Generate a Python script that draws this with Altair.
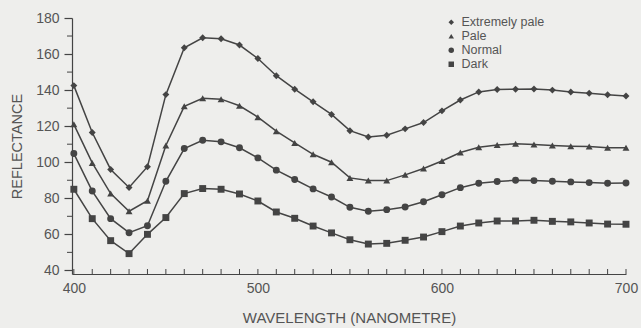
import altair as alt
import pandas as pd

wavelength = [400, 410, 420, 430, 440, 450, 460, 470, 480, 490, 500,
              510, 520, 530, 540, 550, 560, 570, 580, 590, 600,
              610, 620, 630, 640, 650, 660, 670, 680, 690, 700]

extremely_pale = [142.5, 116.5, 96, 86, 97.5, 137.5, 163.5, 169, 168.5, 165, 157.5,
                  148, 140.5, 133.5, 126.5, 117.5, 114, 115, 118.5, 122, 128.5,
                  134.5, 139, 140.3, 140.5, 140.6, 140, 139, 138.3, 137.4, 136.7]
pale = [121, 99.6, 82.6, 72.8, 78.7, 109.3, 131, 135.5, 135, 131.3, 125,
        117.2, 110.7, 104.4, 100, 91.3, 89.8, 89.8, 93, 96.5, 100.7,
        105.4, 108.3, 109.6, 110.2, 109.8, 109.3, 108.9, 108.7, 108, 108]
normal = [104.8, 84, 68.7, 60.9, 64.8, 89.4, 107.6, 112.2, 111.3, 108, 102.4,
          95.6, 90.4, 85.2, 80.7, 75, 72.8, 73.7, 75.2, 78.1, 82,
          85.9, 88.3, 89.3, 90, 89.8, 89.4, 89.1, 88.7, 88.3, 88.5]
dark = [85, 68.7, 56.5, 49.3, 60, 69.3, 82.6, 85.4, 85, 82.4, 78.5,
        72.4, 68.9, 64.6, 60.8, 57, 54.6, 55, 56.7, 58.5, 61.5,
        64.6, 66.3, 67.4, 67.4, 67.8, 67.2, 66.9, 66.3, 65.7, 65.6]

series_names = ["Extremely pale", "Pale", "Normal", "Dark"]
series_shapes = ["diamond", "triangle-up", "circle", "square"]

x_major = [400, 500, 600, 700]
y_major = [40, 60, 80, 100, 120, 140, 160, 180]
y_minor = [50, 70, 90, 110, 130, 150, 170]

rows = []
for name, vals in zip(series_names, [extremely_pale, pale, normal, dark]):
    for w, v in zip(wavelength, vals):
        rows.append({"wavelength": w, "reflectance": v, "series": name})
df = pd.DataFrame(rows)

FONT = "Liberation Sans"
INK = "#444444"
TXT = "#555555"
W, H = 554, 256

xscale = alt.Scale(domain=[399, 700], nice=False, zero=False)
yscale = alt.Scale(domain=[38, 180], nice=False, zero=False)

xaxis = alt.Axis(values=x_major, ticks=False, grid=False, labelPadding=7,
                 labelFontSize=14, labelColor=TXT, labelFont=FONT,
                 labelFlush=False, labelOverlap=False, labelBound=False,
                 domainColor=INK, domainWidth=1.2,
                 title="WAVELENGTH (NANOMETRE)", titleFont=FONT, titleFontSize=15,
                 titleFontWeight="normal", titleColor=TXT, titlePadding=15)
yaxis = alt.Axis(values=y_major, tickSize=8, tickColor=INK, tickWidth=1.2, grid=False,
                 labelPadding=5, labelFontSize=14, labelColor=TXT, labelFont=FONT,
                 labelFlush=False, labelOverlap=False, labelBound=False,
                 domainColor=INK, domainWidth=1.2,
                 title="REFLECTANCE", titleFont=FONT, titleFontSize=14.5,
                 titleFontWeight="normal", titleColor=TXT, titlePadding=11)

base = alt.Chart(df)

lines = base.mark_line(color=INK, strokeWidth=1.5).encode(
    x=alt.X("wavelength:Q", scale=xscale, axis=xaxis),
    y=alt.Y("reflectance:Q", scale=yscale, axis=yaxis),
    detail="series:N",
)

points = base.mark_point(filled=True, color=INK, opacity=1).encode(
    x=alt.X("wavelength:Q", scale=xscale, axis=xaxis),
    y=alt.Y("reflectance:Q", scale=yscale, axis=yaxis),
    shape=alt.Shape("series:N",
                    scale=alt.Scale(domain=series_names, range=series_shapes),
                    legend=alt.Legend(title=None, orient="none", legendX=373, legendY=-2,
                                      symbolFillColor=INK, symbolStrokeColor=INK,
                                      symbolSize=30, labelFont=FONT, labelFontSize=12.5,
                                      labelColor=TXT, rowPadding=1, labelOffset=4)),
    size=alt.value(48),
)

xt = alt.Chart(pd.DataFrame({"wavelength": wavelength})).mark_rule(color=INK, strokeWidth=1).encode(
    x=alt.X("wavelength:Q", scale=xscale, axis=xaxis),
    y=alt.value(H),
    y2=alt.value(H - 5),
)

yt = alt.Chart(pd.DataFrame({"reflectance": y_minor})).mark_rule(color=INK, strokeWidth=1).encode(
    y=alt.Y("reflectance:Q", scale=yscale, axis=yaxis),
    x=alt.value(0),
    x2=alt.value(-5),
)

chart = alt.layer(lines, points, xt, yt).properties(
    width=W, height=H,
    autosize=alt.AutoSizeParams(type="none"),
    padding={"left": 72, "top": 18, "right": 15, "bottom": 54},
    background="#eeeeec",
).configure_view(stroke=None)

chart.save("out.html", embed_options={"renderer": "svg", "actions": False})
